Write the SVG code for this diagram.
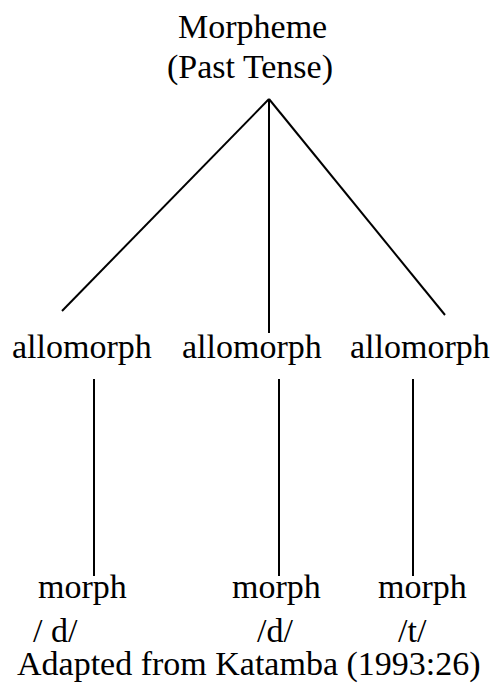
<svg xmlns="http://www.w3.org/2000/svg" width="495" height="686" viewBox="0 0 495 686">
<style>
text{font-family:"Liberation Serif","Times New Roman",serif;font-size:34px;fill:#000}
.c line{stroke:#000;stroke-width:2;fill:none}
</style>
<rect width="495" height="686" fill="#fff"/>
<g id="morpheme"><text x="178" y="38">Morpheme</text><text x="167" y="78">(Past Tense)</text></g>
<g id="allo1"><text x="12" y="358">allomorph</text></g>
<g id="allo2"><text x="182" y="358">allomorph</text></g>
<g id="allo3"><text x="350" y="358">allomorph</text></g>
<g id="morph1"><text x="38" y="598">morph</text><text x="33" y="642">/ d/</text></g>
<g id="morph2"><text x="232" y="598">morph</text><text x="257" y="642">/d/</text></g>
<g id="morph3"><text x="378" y="598">morph</text><text x="398" y="642">/t/</text></g>
<g id="caption"><text x="17" y="675">Adapted from Katamba (1993:26)</text></g>
<g class="c" id="connectors">
<line x1="269" y1="99" x2="62" y2="311"/>
<line x1="269" y1="99" x2="269" y2="333"/>
<line x1="269" y1="99" x2="445" y2="315"/>
<line x1="94" y1="379" x2="94" y2="576"/>
<line x1="279" y1="379" x2="279" y2="576"/>
<line x1="413" y1="379" x2="413" y2="576"/>
</g>
</svg>
